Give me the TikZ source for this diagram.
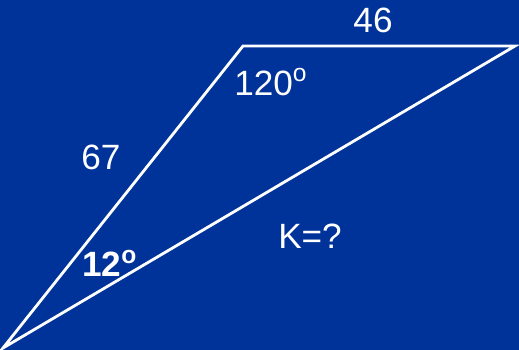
\documentclass[tikz,border=0pt]{standalone}
\usepackage{fontspec}
\setmainfont{Liberation Sans}
\usepackage{xcolor}
\definecolor{slideblue}{RGB}{0,51,153}
\tikzset{every node/.append style={font=\fontsize{20}{24}\selectfont, text=white, inner sep=0pt}}

\begin{document}
\begin{tikzpicture}[x=0.02cm, y=-0.02cm]
    \fill[slideblue] (0,0) rectangle (519,350);
    \useasboundingbox (0,0) rectangle (519,350);
    \coordinate (A) at (3,348);
    \coordinate (B) at (243,46);
    \coordinate (C) at (515,46);
    \draw[white, line width=1.6pt, line join=miter] (A) -- (B) -- (C) -- cycle;
    \node (top) at (373,20) {46};
    \node[anchor=west] (angB) at (234,82) {120\textsuperscript{o}};
    \node (left) at (101,157) {67};
    \node[anchor=west, font=\fontsize{20}{24}\selectfont\bfseries] (angA) at (82,263) {12\textsuperscript{o}};
    \node (area) at (310,236) {K=?};
\end{tikzpicture}
\end{document}
